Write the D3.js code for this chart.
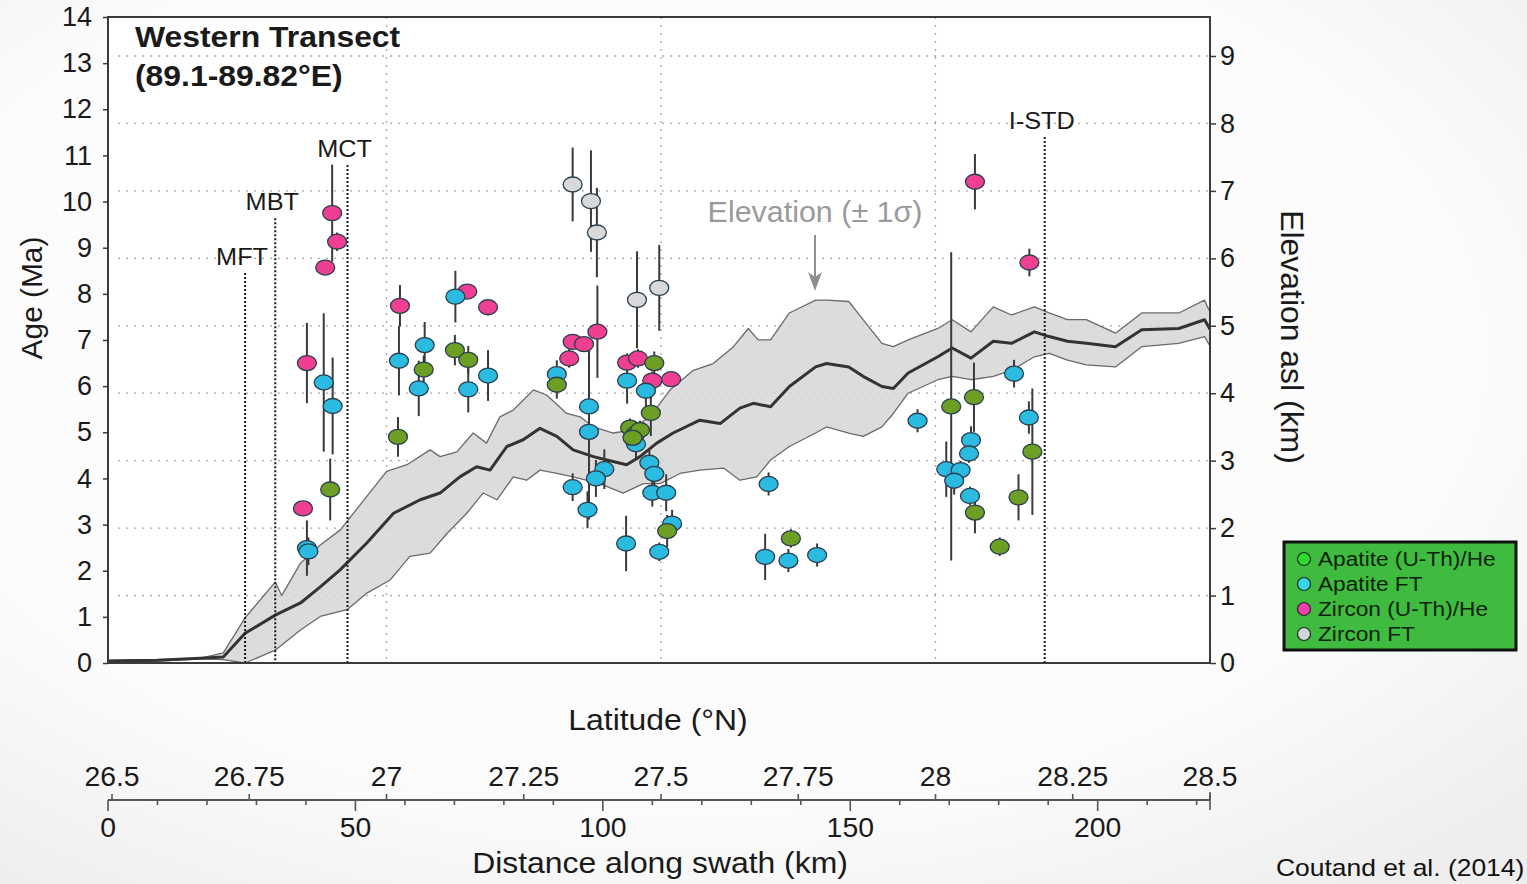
<!DOCTYPE html>
<html>
<head>
<meta charset="utf-8">
<script src="https://cdn.jsdelivr.net/npm/d3@7"></script>
<style>
  body { margin: 0; background: #fafafa; }
  svg text { font-family: "Liberation Sans", Arial, Helvetica, sans-serif; }
</style>
</head>
<body>
<svg id="chart" width="1527" height="884"></svg>
<script>
const width = 1527;
const height = 884;

// elevation swath profile (km asl) along distance (km): mean and ±1 sigma envelope
const meanDist  = [0, 10, 18.6, 23.3, 27.7, 33.8, 38.9, 42.9, 46.9, 52.3, 57.7, 63.1, 67.1, 71.1, 74.5, 77.2, 80.6, 83.9, 87.3, 90.7, 94.0, 98.1, 100.8, 104.8, 107.5, 110.9, 114.2, 119.6, 123.7, 127.7, 130.4, 133.9, 137.7, 143, 145.2, 149.7, 152.6, 156.4, 158.7, 161.7, 167.7, 170.6, 174.4, 178.9, 182.6, 187.2, 190.2, 193.9, 197.7, 203.6, 208.9, 216.4, 221.6, 222.7];
const meanElev  = [0.03, 0.04, 0.07, 0.09, 0.44, 0.71, 0.89, 1.13, 1.38, 1.78, 2.22, 2.42, 2.52, 2.76, 2.91, 2.86, 3.21, 3.31, 3.48, 3.36, 3.16, 3.06, 3.01, 2.94, 3.06, 3.26, 3.41, 3.6, 3.55, 3.78, 3.85, 3.8, 4.1, 4.39, 4.44, 4.39, 4.25, 4.1, 4.07, 4.3, 4.54, 4.67, 4.52, 4.77, 4.74, 4.91, 4.84, 4.77, 4.74, 4.69, 4.94, 4.96, 5.09, 4.95];

const upperDist = [0, 10, 18.6, 23.3, 27.7, 33.8, 35.1, 38.9, 42.9, 46.9, 52.3, 56.3, 60.4, 65.1, 67.1, 70.5, 73.8, 76.5, 79.2, 81.9, 86.0, 88.7, 92.7, 95.4, 98.1, 102.1, 105.5, 109.5, 113.6, 118.3, 122.3, 126.4, 129.4, 131.4, 133.9, 137.7, 143, 145.2, 149.7, 152.6, 156.4, 158.7, 161.7, 167.7, 170.6, 174.4, 178.9, 182.6, 187.2, 190.2, 193.9, 197.7, 203.6, 208.9, 216.4, 221.6, 222.7];
const upperElev = [0.04, 0.05, 0.07, 0.15, 0.67, 1.2, 1.0, 1.48, 1.75, 1.97, 2.47, 2.84, 2.94, 3.16, 3.06, 3.13, 3.41, 3.26, 3.65, 3.75, 4.05, 3.97, 3.7, 3.65, 3.5, 3.41, 3.45, 3.65, 4.05, 4.34, 4.44, 4.69, 4.96, 4.79, 4.79, 5.19, 5.38, 5.38, 5.36, 5.09, 4.74, 4.69, 4.79, 4.96, 5.09, 4.91, 5.28, 5.16, 5.28, 5.19, 5.09, 5.09, 4.89, 5.19, 5.19, 5.38, 5.2];

const lowerDist = [0, 10, 18.6, 23.3, 27.7, 33.8, 38.9, 42.9, 48.3, 52.4, 57.0, 61.0, 65.1, 68.5, 72.5, 75.8, 78.6, 81.9, 84.6, 87.3, 90.7, 94.0, 99.4, 104.1, 108.2, 111.6, 115.6, 119.6, 124.4, 127.7, 131.1, 133.9, 137.7, 143, 145.2, 149.7, 152.6, 156.4, 158.7, 161.7, 167.7, 170.6, 174.4, 178.9, 182.6, 187.2, 190.2, 193.9, 197.7, 203.6, 208.9, 216.4, 221.6, 222.7];
const lowerElev = [0.02, 0.03, 0.06, 0.05, 0.0, 0.19, 0.49, 0.69, 0.79, 1.04, 1.23, 1.58, 1.63, 1.92, 2.22, 2.52, 2.42, 2.76, 2.71, 2.86, 2.81, 2.76, 2.66, 2.52, 2.66, 2.66, 2.81, 2.86, 2.89, 2.71, 2.76, 3.01, 3.21, 3.41, 3.5, 3.41, 3.36, 3.5, 3.7, 4.0, 4.2, 4.25, 4.2, 4.25, 4.34, 4.54, 4.59, 4.49, 4.42, 4.39, 4.69, 4.74, 4.84, 4.7];

// Apatite (U-Th)/He
const aheDist = [58.6, 44.9, 63.8, 70.1, 72.8, 90.7, 105.5, 106.5, 107.5, 106.0, 110.4, 109.7, 113.0, 138.0, 170.4, 175.0, 175.2, 186.8, 184.0, 180.2];
const aheAge  = [4.9, 3.76, 6.36, 6.78, 6.57, 6.03, 5.1, 4.95, 5.05, 4.88, 6.5, 5.42, 2.86, 2.7, 5.56, 5.76, 3.26, 4.58, 3.59, 2.52];
const aheErr  = [0.43, 0.67, 0.3, 0.33, 0.3, 0.3, 0.2, 0.2, 0.2, 0.2, 0.25, 0.5, 0.35, 0.2, 3.34, 0.75, 0.45, 1.37, 0.5, 0.2];

// Apatite FT
const aftDist = [43.6, 45.4, 40.2, 40.5, 58.8, 64.0, 62.8, 70.2, 72.8, 76.8, 90.7, 97.2, 97.2, 93.9, 100.3, 98.6, 96.9, 104.9, 108.7, 106.7, 109.4, 110.4, 110.0, 112.8, 104.7, 111.4, 114.0, 133.5, 132.8, 137.5, 143.3, 163.6, 183.1, 186.1, 174.4, 174.0, 169.4, 172.3, 171.0, 174.2];
const aftAge  = [6.08, 5.57, 2.49, 2.42, 6.55, 6.89, 5.95, 7.94, 5.93, 6.23, 6.26, 5.56, 5.01, 3.81, 4.2, 4.0, 3.32, 6.12, 5.9, 4.74, 4.34, 4.1, 3.69, 3.69, 2.59, 2.41, 3.02, 3.88, 2.3, 2.22, 2.34, 5.25, 6.27, 5.32, 4.83, 4.54, 4.2, 4.18, 3.95, 3.62];
const aftErr  = [1.5, 1.05, 0.6, 0.3, 0.75, 0.5, 0.6, 0.56, 0.5, 0.55, 0.3, 0.3, 1.9, 0.3, 0.43, 0.4, 0.4, 0.5, 0.35, 0.3, 0.3, 0.3, 0.3, 0.4, 0.6, 0.2, 0.3, 0.25, 0.5, 0.25, 0.25, 0.25, 0.3, 0.35, 0.3, 0.2, 0.6, 0.2, 0.3, 0.2];

// Zircon (U-Th)/He
const zheDist = [45.3, 46.3, 43.9, 40.2, 39.4, 59.0, 72.6, 76.8, 98.9, 93.9, 96.2, 93.2, 104.9, 107.1, 110.0, 113.8, 175.2, 186.2];
const zheAge  = [9.75, 9.13, 8.57, 6.5, 3.35, 7.74, 8.05, 7.71, 7.18, 6.96, 6.91, 6.6, 6.51, 6.6, 6.12, 6.15, 10.43, 8.68];
const zheErr  = [1.05, 0.2, 0, 0.87, 0, 0.45, 0, 0, 1.0, 0.15, 0.15, 0.2, 0.2, 0.2, 0.2, 0, 0.6, 0.3];

// Zircon FT
const zftDist = [93.9, 97.6, 98.8, 106.9, 111.4];
const zftAge  = [10.37, 10.01, 9.33, 7.87, 8.13];
const zftErr  = [0.8, 1.1, 0.97, 1.05, 0.93];

// structures: distance (km) and top of the marker line (Ma)
const faultNames = ["MFT", "MBT", "MCT", "I-STD"];
const faultDist  = [27.7, 33.8, 48.4, 189.3];
const faultTop   = [8.45, 9.64, 10.79, 11.4];

const ageTicks  = d3.range(0, 15);
const elevTicks = d3.range(0, 10);
const latTicks  = [26.5, 26.75, 27, 27.25, 27.5, 27.75, 28, 28.25, 28.5];
const latGrid   = [27, 27.5, 28];
const distTicks = [0, 50, 100, 150, 200];

const legendNames  = ["Apatite (U-Th)/He", "Apatite FT", "Zircon (U-Th)/He", "Zircon FT"];
const legendColors = ["#2ed82e", "#3ad6e6", "#f23fae", "#cfd6d6"];

const pLeft = 108, pRight = 1210, pTop = 17, pBottom = 663;

const x    = d3.scaleLinear().domain([0, 222.7]).range([pLeft, pRight]);
const xLat = d3.scaleLinear().domain([26.5, 28.5]).range([112, pRight]);
const yAge  = d3.scaleLinear().domain([0, 14]).range([pBottom, pTop]);
const yElev = d3.scaleLinear().domain([0, 9]).range([pBottom, 56]);

const svg = d3.select("#chart")
  .attr("viewBox", [0, 0, width, height]);

// faint backdrop shading
const defs = svg.append("defs");
const grad = defs.append("radialGradient").attr("id", "bg")
  .attr("cx", "45%").attr("cy", "40%").attr("r", "75%");
grad.append("stop").attr("offset", "0%").attr("stop-color", "#ffffff");
grad.append("stop").attr("offset", "70%").attr("stop-color", "#fbfbfb");
grad.append("stop").attr("offset", "100%").attr("stop-color", "#eeeeee");
svg.append("rect").attr("width", width).attr("height", height).attr("fill", "url(#bg)");

svg.append("rect")
  .attr("x", pLeft).attr("y", pTop)
  .attr("width", pRight - pLeft).attr("height", pBottom - pTop)
  .attr("fill", "#fff");

// text helper: the figure's lettering is slightly wide
const SX = 1.1;
function label(g, str, px, py, size, opts = {}) {
  return g.append("text")
    .attr("transform", `translate(${px},${py}) rotate(${opts.rotate || 0}) scale(${opts.sx || SX},1)`)
    .attr("text-anchor", opts.anchor || "start")
    .attr("font-size", size)
    .attr("font-weight", opts.bold ? "bold" : null)
    .attr("fill", opts.fill || "#1a1a1a")
    .text(str);
}

// grid lines
const grid = svg.append("g")
  .attr("stroke", "#a8a8a8")
  .attr("stroke-width", 1.3)
  .attr("stroke-dasharray", "2,6");
grid.selectAll("line.h")
  .data(elevTicks.slice(1))
  .join("line")
    .attr("x1", pLeft + 10).attr("x2", pRight)
    .attr("y1", d => yElev(d)).attr("y2", d => yElev(d));
grid.selectAll("line.v")
  .data(latGrid)
  .join("line")
    .attr("x1", d => xLat(d)).attr("x2", d => xLat(d))
    .attr("y1", pTop).attr("y2", pBottom);

// elevation band: upper edge forward, lower edge back
const upperPts = upperDist.map((d, i) => [x(d), yElev(upperElev[i])]);
const lowerPts = lowerDist.map((d, i) => [x(d), yElev(lowerElev[i])]).reverse();
svg.append("path")
  .datum(upperPts.concat(lowerPts))
  .attr("d", d => d3.line()(d) + "Z")
  .attr("fill", "#d6d6d6")
  .attr("fill-opacity", 0.85)
  .attr("stroke", "#6a6a6a")
  .attr("stroke-width", 1.3)
  .attr("stroke-linejoin", "round");
svg.append("path")
  .datum(meanDist.map((d, i) => [x(d), yElev(meanElev[i])]))
  .attr("d", d3.line())
  .attr("fill", "none")
  .attr("stroke", "#333")
  .attr("stroke-width", 3)
  .attr("stroke-linejoin", "round");

// fault traces
const faults = svg.append("g");
faults.selectAll("line")
  .data(faultNames)
  .join("line")
    .attr("x1", (d, i) => x(faultDist[i])).attr("x2", (d, i) => x(faultDist[i]))
    .attr("y1", (d, i) => yAge(faultTop[i])).attr("y2", pBottom)
    .attr("stroke", "#1a1a1a")
    .attr("stroke-width", 2)
    .attr("stroke-dasharray", "2,2");
faultNames.forEach((n, i) => {
  label(faults, n, x(faultDist[i]) - 3, yAge(faultTop[i]) - 8, 23, { anchor: "middle" });
});

// samples
const series = [
  { dist: zftDist, age: zftAge, err: zftErr, fill: "#d9d9d9" },
  { dist: zheDist, age: zheAge, err: zheErr, fill: "#ee3f93" },
  { dist: aftDist, age: aftAge, err: aftErr, fill: "#2bbbe0" },
  { dist: aheDist, age: aheAge, err: aheErr, fill: "#6c9f24" }
];

series.forEach(s => {
  const ix = d3.range(s.dist.length);
  svg.append("g")
    .attr("stroke", "#3a3a3a")
    .attr("stroke-width", 2)
    .selectAll("line")
    .data(ix.filter(i => s.err[i] > 0))
    .join("line")
      .attr("x1", i => x(s.dist[i])).attr("x2", i => x(s.dist[i]))
      .attr("y1", i => yAge(s.age[i] + s.err[i]))
      .attr("y2", i => yAge(s.age[i] - s.err[i]));
});
series.forEach(s => {
  const ix = d3.range(s.dist.length);
  svg.append("g")
    .selectAll("ellipse")
    .data(ix)
    .join("ellipse")
      .attr("cx", i => x(s.dist[i]))
      .attr("cy", i => yAge(s.age[i]))
      .attr("rx", 9.5)
      .attr("ry", 7.5)
      .attr("fill", s.fill)
      .attr("stroke", "#2b3f4f")
      .attr("stroke-width", 1.3);
});

// elevation annotation
label(svg, "Elevation (± 1σ)", 815, 222, 29, { anchor: "middle", fill: "#9a9a9a", sx: 1.05 });
svg.append("line")
  .attr("x1", 815).attr("x2", 815).attr("y1", 235).attr("y2", 282)
  .attr("stroke", "#8f8f8f").attr("stroke-width", 2);
svg.append("path")
  .attr("d", "M808,272 L815,291 L822,272 L815,277 Z")
  .attr("fill", "#8f8f8f");

// frame
svg.append("rect")
  .attr("x", pLeft).attr("y", pTop)
  .attr("width", pRight - pLeft).attr("height", pBottom - pTop)
  .attr("fill", "none")
  .attr("stroke", "#3a3a3a")
  .attr("stroke-width", 2);

// age axis
const ageAxis = svg.append("g")
  .attr("transform", `translate(${pLeft},0)`)
  .call(d3.axisLeft(yAge).tickValues(ageTicks).tickSize(5).tickPadding(11).tickFormat(d3.format("d")));
ageAxis.select(".domain").remove();
ageAxis.selectAll("line").attr("stroke", "#3a3a3a").attr("stroke-width", 1.5);
ageAxis.selectAll("text")
  .attr("font-size", 27).attr("fill", "#1a1a1a")
  .attr("font-family", "Liberation Sans, Arial, sans-serif");

// elevation axis
const elevAxis = svg.append("g")
  .attr("transform", `translate(${pRight},0)`)
  .call(d3.axisRight(yElev).tickValues(elevTicks).tickSize(6).tickPadding(4).tickFormat(d3.format("d")));
elevAxis.select(".domain").remove();
elevAxis.selectAll("line").attr("stroke", "#3a3a3a").attr("stroke-width", 1.5);
elevAxis.selectAll("text")
  .attr("font-size", 27).attr("fill", "#1a1a1a")
  .attr("font-family", "Liberation Sans, Arial, sans-serif");

// axis titles
label(svg, "Age (Ma)", 42, 298, 29, { anchor: "middle", rotate: -90, sx: 1.03 });
label(svg, "Elevation asl (km)", 1281, 337, 31, { anchor: "middle", rotate: 90, sx: 1.03 });

// title
label(svg, "Western Transect", 135, 47, 29, { bold: true });
label(svg, "(89.1-89.82°E)", 135, 86, 29, { bold: true });

// combined latitude / distance scale
const axisY = 800;
const scaleG = svg.append("g").attr("stroke", "#555").attr("stroke-width", 1.6);
scaleG.append("line").attr("x1", pLeft).attr("x2", pRight).attr("y1", axisY).attr("y2", axisY)
  .attr("stroke-width", 2.2);
scaleG.selectAll("line.minor")
  .data(d3.range(10, 223, 10).filter(d => d % 50 !== 0))
  .join("line")
    .attr("x1", d => x(d)).attr("x2", d => x(d))
    .attr("y1", axisY).attr("y2", axisY + 5);
scaleG.selectAll("line.major")
  .data(distTicks)
  .join("line")
    .attr("x1", d => x(d)).attr("x2", d => x(d))
    .attr("y1", axisY).attr("y2", axisY + 11);
scaleG.selectAll("line.lat")
  .data(latTicks)
  .join("line")
    .attr("x1", d => xLat(d)).attr("x2", d => xLat(d))
    .attr("y1", axisY - 6).attr("y2", axisY);
scaleG.append("line").attr("x1", pRight).attr("x2", pRight).attr("y1", axisY - 8).attr("y2", axisY + 10);

latTicks.forEach(d => {
  label(svg, String(d), xLat(d), 786, 27, { anchor: "middle", sx: 1.05 });
});
distTicks.forEach(d => {
  label(svg, String(d), x(d), 837, 27, { anchor: "middle", sx: 1.05 });
});
label(svg, "Latitude (°N)", 658, 730, 29, { anchor: "middle" });
label(svg, "Distance along swath (km)", 660, 873, 29, { anchor: "middle" });

// legend
const lg = svg.append("g").attr("transform", "translate(1284,542)");
lg.append("rect")
  .attr("width", 232).attr("height", 108)
  .attr("fill", "#3fbb3f")
  .attr("stroke", "#111")
  .attr("stroke-width", 3);
legendNames.forEach((n, i) => {
  lg.append("circle")
    .attr("cx", 20).attr("cy", 17 + i * 25)
    .attr("r", 6.5)
    .attr("fill", legendColors[i])
    .attr("stroke", "#1d2b1d")
    .attr("stroke-width", 1.2);
  label(lg, n, 34, 24 + i * 25, 21, { fill: "#0e220e", sx: 1.08 });
});

// source
label(svg, "Coutand et al. (2014)", 1276, 876, 23, { fill: "#111", sx: 1.15 });
</script>
</body>
</html>
